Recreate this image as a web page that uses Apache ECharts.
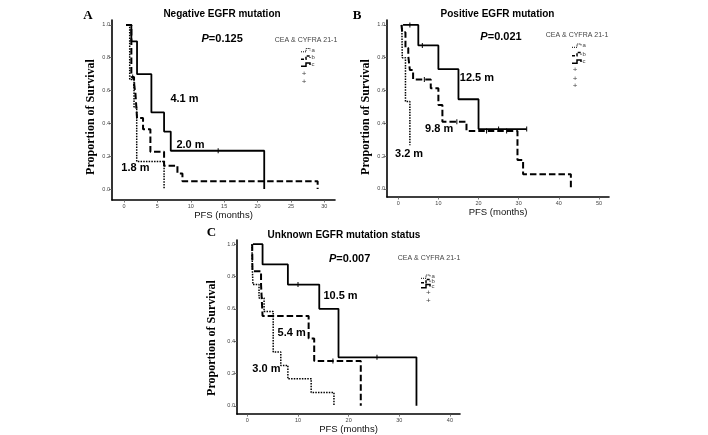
<!DOCTYPE html>
<html><head><meta charset="utf-8">
<script src="https://cdn.jsdelivr.net/npm/echarts@6/dist/echarts.min.js"></script>
<style>html,body{margin:0;padding:0;background:#fff}#c{width:708px;height:435px}</style>
</head><body><div id="c"></div>
<script>
// ================= DATA =================
const groupNames = ['a', 'b', 'c'];          // CEA & CYFRA 21-1 groups (dotted, dashed, solid)
const legendTitle = 'CEA & CYFRA 21-1';
const xName = 'PFS (months)';
const yName = 'Proportion of Survival';
const yTicks = [0, 0.2, 0.4, 0.6, 0.8, 1.0];

// Panel A
const aLetter = 'A';
const aTitle = 'Negative EGFR mutation';
const aPValue = '0.125';
const aXTicks = [0, 5, 10, 15, 20, 25, 30];
const aDotted = [[0.3,1],[0.85,0.667],[1.5,0.5],[1.9,0.167],[6,0]];
const aDashed = [[0.3,1],[1.1,0.682],[1.5,0.636],[1.7,0.59],[1.95,0.432],[2.85,0.364],[3.95,0.227],[6,0.142],[8,0.095],[8.75,0.048],[29,0]];
const aSolid  = [[0.3,1],[1.1,0.9],[1.95,0.7],[4.1,0.467],[6,0.35],[7,0.233],[21,0]];
const aCensor = [[1.3,0.682],[1.6,0.636],[14.1,0.233]];
const aMedians = ['4.1 m', '2.0 m', '1.8 m'];

// Panel B
const bLetter = 'B';
const bTitle = 'Positive EGFR mutation';
const bPValue = '0.021';
const bXTicks = [0, 10, 20, 30, 40, 50];
const bDotted = [[0.9,1],[1,0.8],[1.8,0.533],[2.9,0.267]];
const bDashed = [[0.8,1],[1,0.955],[1.8,0.86],[2.5,0.81],[2.9,0.725],[3.7,0.668],[8.1,0.614],[10,0.512],[11,0.41],[17,0.354],[29.7,0.177],[31.1,0.09],[43,0]];
const bSolid  = [[1.2,1],[5,0.875],[10,0.73],[15,0.547],[20,0.365],[32,0.365]];
const bCensor = [[2.9,1],[6,0.875],[6.5,0.668],[14.6,0.41],[22,0.354],[27,0.354],[25,0.365],[32,0.365]];
const bMedians = ['12.5 m', '9.8 m', '3.2 m'];

// Panel C
const cLetter = 'C';
const cTitle = 'Unknown EGFR mutation status';
const cPValue = '0.007';
const cXTicks = [0, 10, 20, 30, 40];
const cDotted = [[0.9,1],[1,0.833],[1.1,0.75],[2.3,0.667],[3.3,0.583],[5.1,0.333],[6.6,0.25],[8,0.167],[12.6,0.083],[17.1,0]];
const cDashed = [[0.95,1],[1,0.833],[2.7,0.75],[3,0.556],[12.1,0.417],[13.2,0.278],[22.4,0]];
const cSolid  = [[1.1,1],[3,0.875],[8,0.75],[14.2,0.6],[18,0.3],[33.4,0]];
const cCensor = [[10,0.75],[16.9,0.278],[25.6,0.3]];
const cMedians = ['10.5 m', '5.4 m', '3.0 m'];

// ================= LAYOUT =================
const SANS = "'Liberation Sans', Arial, sans-serif";
const SERIF = "'Liberation Serif', 'Times New Roman', serif";
const panels = [
  { letter:aLetter, title:aTitle, p:aPValue, xTicks:aXTicks, curves:[aDotted,aDashed,aSolid], censor:aCensor, medians:aMedians,
    grid:{left:112, top:20, width:223, height:180}, xr:[-1.8,31.6], yr:[-0.067,1.03], nameGap:7,
    letterPos:[88,15.5], titlePos:[222,14.5], yNamePos:[91,117],
    medianPos:[[9.05,0.546],[9.95,0.268],[1.7,0.129]], pPos:[14.7,0.913],
    legTitlePos:[306,40], legX:301, legRows:[50,57.5,64.5], plusX:304, plusRows:[73.5,81.7] },
  { letter:bLetter, title:bTitle, p:bPValue, xTicks:bXTicks, curves:[bDotted,bDashed,bSolid], censor:bCensor, medians:bMedians,
    grid:{left:387, top:20, width:222, height:177}, xr:[-2.8,52.5], yr:[-0.049,1.03], nameGap:10,
    letterPos:[357,15.5], titlePos:[497.5,14.5], yNamePos:[366,117],
    medianPos:[[19.6,0.675],[10.2,0.368],[2.7,0.213]], pPos:[25.6,0.924],
    legTitlePos:[577,35], legX:572, legRows:[45.5,54,61.5], plusX:575, plusRows:[70,78.3,86] },
  { letter:cLetter, title:cTitle, p:cPValue, xTicks:cXTicks, curves:[cDotted,cDashed,cSolid], censor:cCensor, medians:cMedians,
    grid:{left:237, top:240, width:223, height:176}, xr:[-2.05,42], yr:[-0.051,1.026], nameGap:9,
    letterPos:[211.5,233], titlePos:[344,235], yNamePos:[211.5,338],
    medianPos:[[18.4,0.679],[8.75,0.451],[3.75,0.226]], pPos:[20.2,0.906],
    legTitlePos:[429,258.3], legX:421, legRows:[276.5,281,286], plusX:428.3, plusRows:[292.3,301] }
];
const lineStyles = [
  { color:'#000', width:1.5, type:[1.5,1.2], cap:'butt', opacity:1 },
  { color:'#000', width:2, type:[6.5,3], cap:'butt', opacity:1 },
  { color:'#000', width:1.8, type:'solid', opacity:1 }
];
const hidden = { color:'rgba(0,0,0,0)', opacity:1 };

const grids = [], xAxes = [], yAxes = [], series = [], graphics = [];
panels.forEach((P, i) => {
  grids.push(Object.assign({ containLabel:false }, P.grid));
  xAxes.push({
    gridIndex:i, type:'value', min:P.xr[0], max:P.xr[1],
    axisLine:{ show:true, onZero:false, lineStyle:{ color:'#000', width:1.6 } },
    axisTick:{ show:true, customValues:P.xTicks, length:2.5, lineStyle:{ color:'#555', width:0.8 } },
    axisLabel:{ show:true, customValues:P.xTicks, fontSize:5.5, color:'#444', margin:3, fontFamily:SANS },
    splitLine:{ show:false },
    name:xName, nameLocation:'middle', nameGap:P.nameGap,
    nameTextStyle:{ fontSize:9.5, color:'#111', fontFamily:SANS, verticalAlign:'top' }
  });
  yAxes.push({
    gridIndex:i, type:'value', min:P.yr[0], max:P.yr[1],
    axisLine:{ show:true, onZero:false, lineStyle:{ color:'#000', width:1.6 } },
    axisTick:{ show:true, customValues:yTicks, length:3, lineStyle:{ color:'#555', width:0.8 } },
    axisLabel:{ show:true, customValues:yTicks, formatter:v => v.toFixed(1), fontSize:5.5, color:'#444', margin:2, fontFamily:SANS },
    splitLine:{ show:false }
  });
  P.curves.forEach((d, k) => {
    series.push({ type:'line', name:groupNames[k], xAxisIndex:i, yAxisIndex:i, data:d, step:'end',
      symbol:'none', showSymbol:false, lineStyle:lineStyles[k], silent:true, z:3 });
  });
  series.push({ type:'scatter', xAxisIndex:i, yAxisIndex:i, data:P.censor, symbol:'rect', symbolSize:[1,5],
    itemStyle:{ color:'#000', opacity:1 }, silent:true, z:4 });
  const labelData = P.medians.map((m, k) => ({ value:P.medianPos[k], name:m }));
  series.push({ type:'scatter', xAxisIndex:i, yAxisIndex:i, data:labelData, symbolSize:1,
    itemStyle:hidden, silent:true, z:5,
    label:{ show:true, position:'inside', formatter:q => q.name, fontSize:11, fontWeight:'bold', color:'#000', opacity:1, fontFamily:SANS } });
  series.push({ type:'scatter', xAxisIndex:i, yAxisIndex:i, data:[{ value:P.pPos, name:P.p }], symbolSize:1,
    itemStyle:hidden, silent:true, z:5,
    label:{ show:true, position:'inside', formatter:q => '{i|P}=' + q.name, fontSize:11, fontWeight:'bold', color:'#000', opacity:1, fontFamily:SANS,
      rich:{ i:{ fontStyle:'italic', fontSize:11, fontWeight:'bold', fontFamily:SANS, color:'#000' } } } });

  graphics.push({ type:'text', x:P.letterPos[0], y:P.letterPos[1], silent:true,
    style:{ text:P.letter, font:'bold 13px ' + SERIF, fill:'#000', align:'center', verticalAlign:'middle' } });
  graphics.push({ type:'text', x:P.titlePos[0], y:P.titlePos[1], silent:true,
    style:{ text:P.title, font:'bold 10px ' + SANS, fill:'#000', align:'center', verticalAlign:'middle' } });
  graphics.push({ type:'text', x:P.yNamePos[0], y:P.yNamePos[1], rotation:Math.PI / 2, silent:true,
    style:{ text:yName, font:'bold 12px ' + SERIF, fill:'#000', align:'center', verticalAlign:'middle' } });
  graphics.push({ type:'text', x:P.legTitlePos[0], y:P.legTitlePos[1], silent:true,
    style:{ text:legendTitle, font:'7px ' + SANS, fill:'#444', align:'center', verticalAlign:'middle' } });
  P.legRows.forEach((y, k) => {
    const x0 = P.legX;
    graphics.push({ type:'polyline', silent:true,
      shape:{ points:[[x0, y + 1.8], [x0 + 5, y + 1.8], [x0 + 5, y - 1.5], [x0 + 9, y - 1.5], [x0 + 9, y + 0.5]] },
      style:{ stroke:'#000', fill:null, lineWidth:k === 0 ? 1 : 1.5, lineDash:k === 0 ? [1, 1] : (k === 1 ? [3, 1.5] : null) } });
    graphics.push({ type:'text', x:x0 + 10.5, y:y, silent:true,
      style:{ text:groupNames[k], font:'6px ' + SANS, fill:'#444', align:'left', verticalAlign:'middle' } });
  });
  P.plusRows.forEach(y => {
    graphics.push({ type:'text', x:P.plusX, y:y, silent:true,
      style:{ text:'+', font:'8px ' + SANS, fill:'#444', align:'center', verticalAlign:'middle' } });
  });
});

const chart = echarts.init(document.getElementById('c'), null, { renderer:'canvas' });
chart.setOption({
  animation:false,
  backgroundColor:'#fff',
  grid:grids, xAxis:xAxes, yAxis:yAxes, series:series, graphic:graphics
});
</script></body></html>
